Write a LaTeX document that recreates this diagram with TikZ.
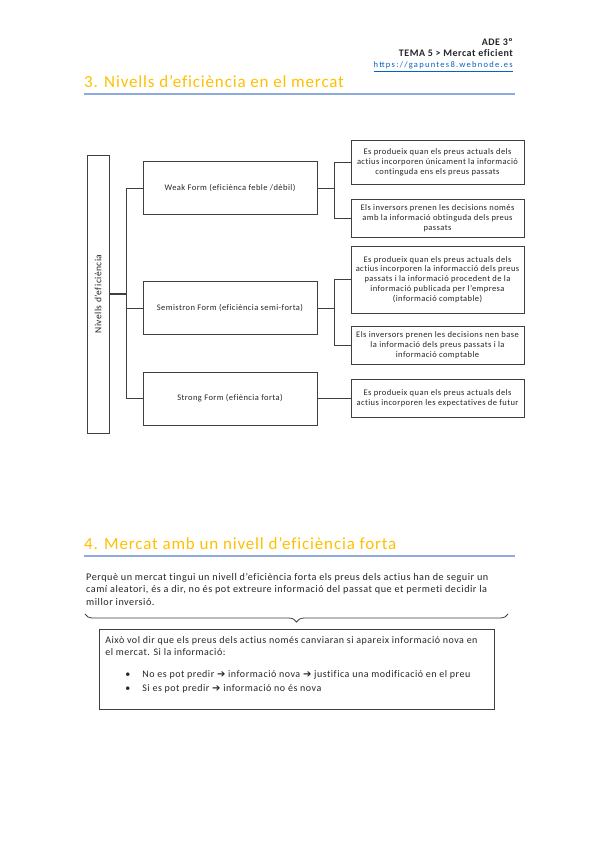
\documentclass[tikz,border=0pt]{standalone}
\usepackage{fontspec}
\setmainfont{Carlito}[LetterSpace=5, Ligatures=CommonOff]
\newfontfamily\urlface{Carlito}[LetterSpace=15]
\newfontfamily\arrowfont{DejaVu Sans}
\usetikzlibrary{decorations.pathreplacing}
\definecolor{titleOrange}{HTML}{FFC000}
\definecolor{ruleBlue}{HTML}{8EAADB}
\definecolor{linkBlue}{HTML}{0563C1}
\definecolor{edgeGray}{HTML}{3F3F3F}
\newcommand{\fsz}[2]{\fontsize{#1}{#2}\selectfont}

\begin{document}
\begin{tikzpicture}[x=1pt, y=-1pt,
    every node/.style={inner sep=0pt, text=black!85},
    formbox/.style={draw=edgeGray, line width=0.8pt, minimum width=174pt, minimum height=53pt, font=\fsz{8.5}{10}},
    notebox/.style={draw=edgeGray, line width=0.8pt, minimum width=173pt, align=center, font=\fsz{8.5}{9.8}},
    wire/.style={draw=edgeGray, line width=0.8pt}]
  \fill[white] (0,0) rectangle (599,848);
  \useasboundingbox (0,0) rectangle (599,848);

  % header
  \node[anchor=base east, font=\bfseries\fsz{10}{11}] (ade) at (513,46) {ADE 3º};
  \node[anchor=base east, font=\bfseries\fsz{10}{11}] (tema) at (513,57) {TEMA 5 > Mercat eficient};
  \node[anchor=base east, text=linkBlue, font=\urlface\fsz{8.5}{9}] (web) at (513,68) {\underline{https://gapuntes8.webnode.es}};

  % section 3
  \node[anchor=base west, text=titleOrange, font=\fsz{17}{18}] (sec3) at (84,88) {3. Nivells d’eficiència en el mercat};
  \draw[ruleBlue, line width=1.5pt] (84,94) -- (515,94);

  \node[draw=edgeGray, line width=0.8pt, rotate=90, minimum width=278pt, minimum height=22pt, font=\fsz{9.5}{10}] (nivells) at (98,294) {Nivells d’eficiència};

  \node[formbox] (weak) at (230,188) {Weak Form (eficiènca feble /dèbil)};
  \node[formbox] (semi) at (230,308) {Semistron Form (eficiència semi-forta)};
  \node[formbox] (strong) at (230,398.5) {Strong Form (efiència forta)};

  \node[notebox, minimum height=44pt] (wk1) at (437.5,162) {Es produeix quan els preus actuals dels\\ actius incorporen únicament la informació\\ continguda ens els preus passats};
  \node[notebox, minimum height=38pt] (wk2) at (437.5,218) {Els inversors prenen les decisions només\\ amb la informació obtinguda dels preus\\ passats};
  \node[notebox, minimum height=67pt] (sm1) at (437.5,279.5) {Es produeix quan els preus actuals dels\\ actius incorporen la informacció dels preus\\ passats i la informació procedent de la\\ informació publicada per l’empresa\\ (informació comptable)};
  \node[notebox, minimum height=38pt] (sm2) at (437.5,345) {Els inversors prenen les decisions nen base\\ la informació dels preus passats i la\\ informació comptable};
  \node[notebox, minimum height=38pt] (st1) at (437.5,398.5) {Es produeix quan els preus actuals dels\\ actius incorporen les expectatives de futur};

  \coordinate (spine) at (126,294);
  \draw[wire, line width=1.6pt] (nivells.south) -- (spine);
  \draw[wire] (spine) |- (weak.west);
  \draw[wire] (spine) |- (semi.west);
  \draw[wire] (spine) |- (strong.west);

  \draw[wire] (weak.east) -- ++(17,0) coordinate (wkfork);
  \draw[wire] (wkfork) |- (wk1.west);
  \draw[wire] (wkfork) |- (wk2.west);
  \draw[wire] (semi.east) -- ++(17,0) coordinate (smfork);
  \draw[wire] (smfork) |- (sm1.west);
  \draw[wire] (smfork) |- (sm2.west);
  \draw[wire] (strong.east) -- (st1.west);

  % section 4
  \node[anchor=base west, text=titleOrange, font=\fsz{17}{18}] (sec4) at (84,549) {4. Mercat amb un nivell d’eficiència forta};
  \draw[ruleBlue, line width=1.5pt] (84,556) -- (515,556);

  \node[anchor=north west, align=left, font=\fsz{10.2}{12.5}] (perque) at (86,573) {Perquè un mercat tingui un nivell d’eficiència forta els preus dels actius han de seguir un\\ camí aleatori, és a dir, no és pot extreure informació del passat que et permeti decidir la\\ millor inversió.};
  \draw[edgeGray, line width=0.8pt, decorate, decoration={brace, amplitude=8pt}] (508,614) -- (85,614);

  \node[draw=edgeGray, line width=0.8pt, anchor=north west, inner xsep=6pt, inner ysep=7pt, font=\fsz{10}{12}] (aixo) at (99,629) {\parbox[c][66pt][t]{383pt}{\raggedright
    Això vol dir que els preus dels actius només canviaran si apareix informació nova en\\
    el mercat. Si la informació:\\[10pt]
    \hspace*{20pt}\textbullet\hspace{12pt}No es pot predir {\arrowfont\bfseries\fsz{10}{12}➔} informació nova {\arrowfont\bfseries\fsz{10}{12}➔} justifica una modificació en el preu\\[2pt]
    \hspace*{20pt}\textbullet\hspace{12pt}Si es pot predir {\arrowfont\bfseries\fsz{10}{12}➔} informació no és nova}};
\end{tikzpicture}
\end{document}
